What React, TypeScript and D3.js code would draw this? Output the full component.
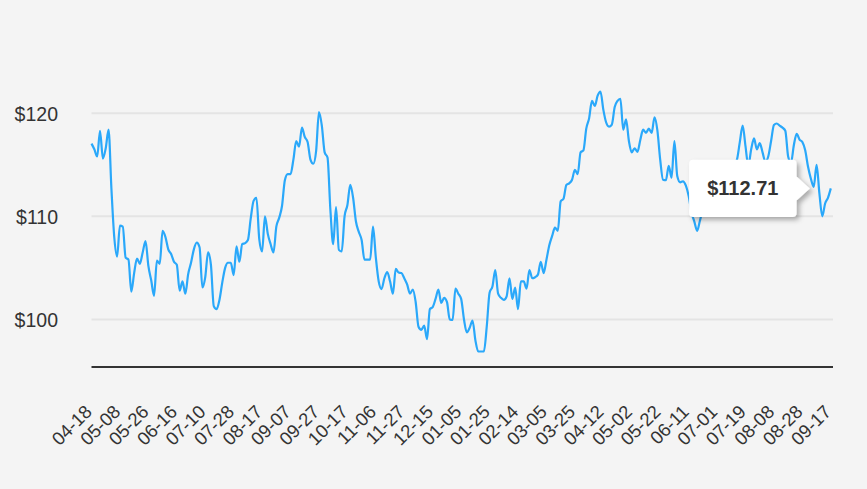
import React from "react";
import * as d3 from "d3";

// Daily closing prices (trading days)
const prices: number[] = [
  117.05, 116.5, 115.8, 118.3, 115.6, 116.6, 118.4, 112.7, 108.0, 106.1,
  109.1, 109.0, 106.0, 105.8, 102.7, 104.5, 105.9, 105.4, 106.5, 107.6,
  105.2, 103.8, 102.3, 105.7, 105.4, 108.6, 108.0, 106.8, 106.35, 105.6,
  105.3, 102.8, 103.7, 102.5, 104.4, 105.5, 106.8, 107.45, 107.0, 103.1,
  104.1, 106.5, 105.3, 101.3, 101.0, 101.9, 103.6, 105.0, 105.5, 105.5,
  104.3, 107.1, 105.6, 107.3, 107.4, 107.7, 109.8, 111.5, 111.8, 107.8,
  106.6, 110.0, 108.3, 107.3, 106.5, 109.0, 109.85, 111.0, 113.5, 114.1,
  114.1, 115.5, 117.3, 116.75, 118.6, 117.7, 117.2, 115.5, 115.1, 116.35,
  120.1, 118.8, 116.2, 115.7, 110.7, 107.3, 110.9, 106.75, 106.6, 110.0,
  111.1, 113.05, 111.8, 109.5, 108.5, 107.7, 105.8, 105.8, 105.8, 109.0,
  106.0, 103.7, 102.95, 104.0, 104.6, 103.7, 102.5, 104.9, 104.55, 104.5,
  104.0, 103.4, 102.5, 102.9, 101.7, 99.3, 99.0, 99.4, 98.1, 101.0,
  101.2, 102.0, 102.9, 101.6, 102.1, 101.7, 100.0, 99.95, 103.0, 102.5,
  102.0, 100.0, 98.75, 99.2, 99.9, 98.0, 96.9, 96.9, 96.9, 99.3,
  102.6, 103.2, 104.8, 102.5, 102.1, 101.9, 102.25, 104.0, 102.0, 103.1,
  101.0, 103.7, 103.7, 103.0, 104.8, 104.0, 104.1, 104.35, 105.6, 104.5,
  105.8, 107.2, 108.1, 108.9, 108.6, 111.45, 111.7, 113.05, 113.2, 113.55,
  114.5, 114.1, 116.2, 116.4, 118.5, 119.5, 121.2, 120.7, 121.7, 122.1,
  120.35, 119.1, 118.7, 118.9, 120.6, 121.2, 121.4, 118.4, 119.4, 117.3,
  116.2, 116.6, 116.25, 117.4, 118.4, 118.1, 118.5, 118.1, 119.6, 118.35,
  115.5, 113.55, 113.5, 114.9, 113.75, 117.3, 113.9, 113.3, 113.4, 113.0,
  112.0, 110.4, 109.5, 108.6, 109.6, 110.5, 110.3, 111.2, 111.0, 112.2,
  112.0, 113.3, 113.0, 114.0, 113.6, 114.5, 115.0, 115.5, 117.2, 118.8,
  116.8, 114.9, 116.5, 117.55, 116.5, 117.1, 116.2, 115.3, 115.8, 117.3,
  118.85, 119.0, 118.8, 118.6, 118.3, 115.8, 115.2, 116.9, 118.0, 117.45,
  117.2, 116.4, 114.8, 113.65, 112.85, 115.0, 112.2, 110.0, 111.25, 111.8,
  112.71,
];

// Category tick labels, one every 10 trading days
const tickLabels: string[] = [
  "04-18", "05-08", "05-26", "06-16", "07-10", "07-28", "08-17", "09-07", "09-27",
  "10-17", "11-06", "11-27", "12-15", "01-05", "01-25", "02-14", "03-05", "03-25",
  "04-12", "05-02", "05-22", "06-11", "07-01", "07-19", "08-08", "08-28", "09-17",
];
const tickEvery = 10;

const yTicks: number[] = [100, 110, 120];

const W = 867;
const H = 489;
const plotLeft = 91.5;
const plotRight = 830.8;
const baseY = 367;
const FONT = "'Liberation Sans', Arial, Helvetica, sans-serif";

export default function App() {
  const x = d3.scaleLinear().domain([0, prices.length - 1]).range([plotLeft, plotRight]);
  const y = d3.scaleLinear().domain([100, 120]).range([319.5, 113.2]);

  const line = d3
    .line<number>()
    .x((_, i) => x(i))
    .y((d) => y(d))
    .curve(d3.curveMonotoneX);

  const lastIdx = prices.length - 1;
  const last = prices[lastIdx];
  const px = x(lastIdx);
  const py = y(last);
  const tipX = px - 21;
  const boxR = tipX - 13.3;
  const boxW = 107.4;
  const boxH = 57.3;
  const boxL = boxR - boxW;
  const boxT = py - boxH / 2;
  const r = 4;
  const tooltipPath = [
    `M${boxL + r},${boxT}`,
    `L${boxR - r},${boxT}`,
    `Q${boxR},${boxT} ${boxR},${boxT + r}`,
    `L${boxR},${py - 12}`,
    `L${tipX},${py}`,
    `L${boxR},${py + 12}`,
    `L${boxR},${boxT + boxH - r}`,
    `Q${boxR},${boxT + boxH} ${boxR - r},${boxT + boxH}`,
    `L${boxL + r},${boxT + boxH}`,
    `Q${boxL},${boxT + boxH} ${boxL},${boxT + boxH - r}`,
    `L${boxL},${boxT + r}`,
    `Q${boxL},${boxT} ${boxL + r},${boxT}`,
    "Z",
  ].join(" ");

  return (
    <div style={{ position: "absolute", left: 0, top: 0, width: W, height: H }}>
      <svg width={W} height={H} style={{ display: "block", background: "#f4f4f4" }}>
        <defs>
          <filter id="shadow" x="-20%" y="-30%" width="150%" height="170%">
            <feDropShadow dx="3" dy="3" stdDeviation="2.5" floodColor="#000" floodOpacity="0.3" />
          </filter>
        </defs>
        <rect x={0} y={0} width={W} height={H} fill="#f4f4f4" />
        {yTicks.map((t) => (
          <g key={t}>
            <line x1={plotLeft} x2={833} y1={y(t)} y2={y(t)} stroke="#e4e4e4" strokeWidth={2} />
            <text
              x={58}
              y={y(t) + 7.5}
              textAnchor="end"
              fontFamily={FONT}
              fontSize={19.5}
              fill="#333"
            >
              {`$${t}`}
            </text>
          </g>
        ))}
        <line x1={plotLeft} x2={833} y1={baseY} y2={baseY} stroke="#333" strokeWidth={2} />
        {tickLabels.map((lab, k) => {
          const tx = x(k * tickEvery) + 1.5;
          const ty = 413;
          return (
            <text
              key={lab + k}
              transform={`translate(${tx},${ty}) rotate(-45)`}
              textAnchor="end"
              fontFamily={FONT}
              fontSize={18.5}
              fill="#333"
            >
              {lab}
            </text>
          );
        })}
        <path d={line(prices) || ""} fill="none" stroke="#2aa8fa" strokeWidth={2.2} strokeLinejoin="round" />
        <g filter="url(#shadow)">
          <path d={tooltipPath} fill="#ffffff" />
        </g>
        <text
          x={(boxL + boxR) / 2}
          y={py + 7}
          textAnchor="middle"
          fontFamily={FONT}
          fontSize={20}
          fontWeight="bold"
          fill="#333"
        >
          {`$${last.toFixed(2)}`}
        </text>
      </svg>
    </div>
  );
}
